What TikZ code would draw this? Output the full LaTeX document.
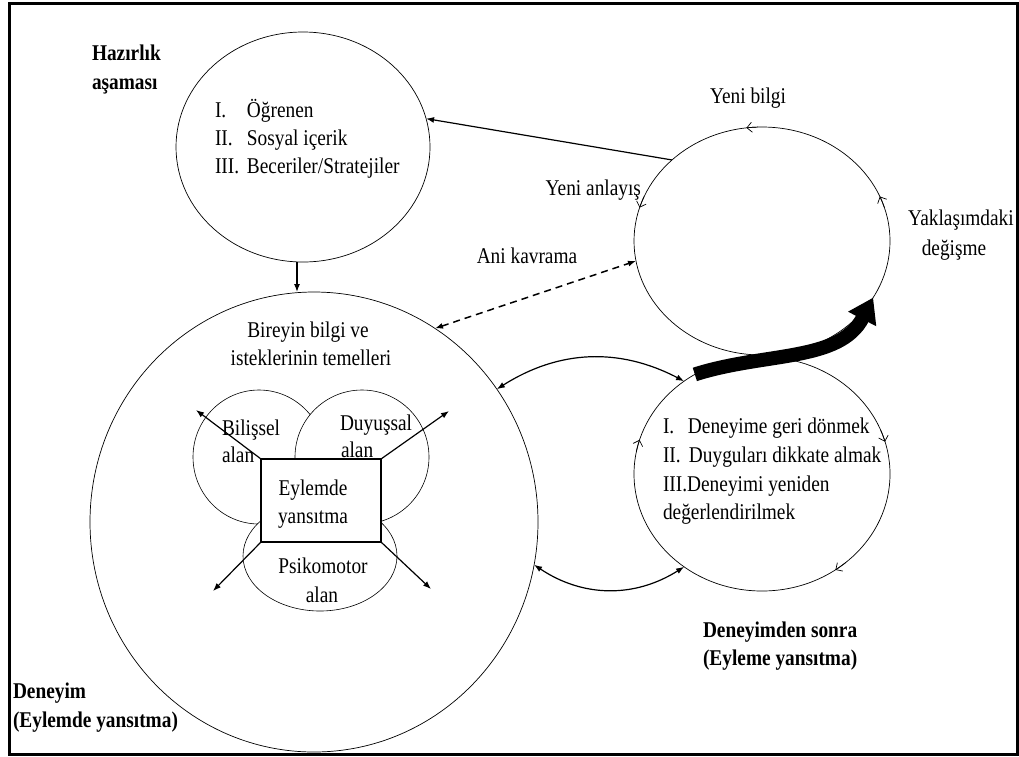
\documentclass[tikz,border=0pt]{standalone}
\usepackage{fontspec}
\setmainfont{Liberation Serif}[FakeStretch=0.86]
\usetikzlibrary{shapes.geometric,arrows.meta,calc}

\begin{document}
\begin{tikzpicture}[x=1pt,y=-1pt,
  every node/.style={inner sep=0pt, outer sep=0pt},
  txt/.style={font=\fontsize{22.5}{29}\selectfont},
  btxt/.style={font=\fontsize{22.5}{29}\selectfont\bfseries},
  ring/.style={draw=black, line width=0.7pt, ellipse},
  lobe/.style={draw=black, line width=0.6pt, ellipse, fill=white},
  arr/.style={line width=1.2pt, -{Latex[length=8pt,width=6pt]}},
  darr/.style={line width=1.2pt, {Latex[length=8pt,width=6pt]}-{Latex[length=8pt,width=6pt]}},
  dasharr/.style={darr, line width=1.5pt, dash pattern=on 7pt off 5pt},
  flow/.style={line width=0.7pt, -{Straight Barb[length=5pt,width=10pt]}},
  bigarr/.style={line width=14pt, -{Triangle[length=24pt,width=30pt]}}]

\useasboundingbox (0,0) rectangle (1019,756);
% frame
\draw[line width=3pt] (9.5,3.5) rectangle (1017.5,754.5);

% the four cycle circles
\node[ring, minimum width=254pt, minimum height=230pt] (tl) at (303,147) {};
\node[ring, minimum width=256pt, minimum height=228pt] (tr) at (762,241) {};
\node[ring, minimum width=256pt, minimum height=234pt] (br) at (762,474) {};
\node[ring, minimum width=448pt, minimum height=460pt] (big) at (314,522) {};

% domains inside the experience circle
\node[lobe, minimum width=132pt, minimum height=134pt] (bil) at (259,457) {};
\node[lobe, minimum width=134pt, minimum height=134pt] (duy) at (362,457) {};
\node[lobe, minimum width=154pt, minimum height=110pt] (psi) at (320,556) {};
\node[draw=black, line width=1.2pt, fill=white, minimum width=120pt, minimum height=83pt] (eyl) at (321,500.5) {};

% direction marks on the right-hand cycles
\draw[flow] ([shift={(-92:128 and 114)}]tr.center) arc[start angle=-92, end angle=-97, x radius=128, y radius=114];
\draw[flow] ([shift={(-157:128 and 114)}]tr.center) arc[start angle=-157, end angle=-163, x radius=128, y radius=114];
\draw[flow] ([shift={(-17:128 and 114)}]tr.center) arc[start angle=-17, end angle=-23, x radius=128, y radius=114];
\draw[flow] ([shift={(-22:128 and 117)}]br.center) arc[start angle=-22, end angle=-16, x radius=128, y radius=117];
\draw[flow] ([shift={(49:128 and 117)}]br.center) arc[start angle=49, end angle=55, x radius=128, y radius=117];
\draw[flow] ([shift={(191:128 and 117)}]br.center) arc[start angle=191, end angle=197, x radius=128, y radius=117];

% labels
\node[btxt, anchor=base west] (hz1) at (92,60) {Hazırlık};
\node[btxt, anchor=base west] (hz2) at (92,89) {aşaması};
\node[btxt, anchor=base west] (dn1) at (13,698) {Deneyim};
\node[btxt, anchor=base west] (dn2) at (13,727) {(Eylemde yansıtma)};
\node[btxt, anchor=base west] (ds1) at (703,637) {Deneyimden sonra};
\node[btxt, anchor=base west] (ds2) at (703,665) {(Eyleme yansıtma)};

\node[txt, anchor=base west] (tl1) at (215,117) {\makebox[32pt][l]{I.}Öğrenen};
\node[txt, anchor=base west] (tl2) at (215,145) {\makebox[32pt][l]{II.}Sosyal içerik};
\node[txt, anchor=base west] (tl3) at (215,173) {\makebox[32pt][l]{III.}Beceriler/Stratejiler};

\node[txt, anchor=base] (yb) at (748,103) {Yeni bilgi};
\node[txt, anchor=base east] (ya) at (641,195) {Yeni anlayış};
\node[txt, anchor=base] (yd1) at (961,225) {Yaklaşımdaki};
\node[txt, anchor=base] (yd2) at (954,255) {değişme};
\node[txt, anchor=base] (ak) at (527,263) {Ani kavrama};

\node[txt, anchor=base] (bb1) at (308,337) {Bireyin bilgi ve};
\node[txt, anchor=base] (bb2) at (311,365) {isteklerinin temelleri};

\node[txt, anchor=base west] (br1) at (663,433) {\makebox[25pt][l]{I.}Deneyime geri dönmek};
\node[txt, anchor=base west] (br2) at (663,462) {\makebox[26pt][l]{II.}Duyguları dikkate almak};
\node[txt, anchor=base west] (br3) at (663,491) {III.Deneyimi yeniden};
\node[txt, anchor=base west] (br4) at (663,519) {değerlendirilmek};

\node[txt, anchor=base west] (bl1) at (222,435) {Bilişsel};
\node[txt, anchor=base west] (bl2) at (222,462) {alan};
\node[txt, anchor=base west] (du1) at (340,430) {Duyuşsal};
\node[txt, anchor=base west] (du2) at (341,457) {alan};
\node[txt, anchor=base] (ey1) at (313,495) {Eylemde};
\node[txt, anchor=base] (ey2) at (313,523) {yansıtma};
\node[txt, anchor=base] (ps1) at (323,573) {Psikomotor};
\node[txt, anchor=base] (ps2) at (322,602) {alan};

% arrows out of the reflection box
\coordinate (nw) at (196,410);
\coordinate (ne) at (449,411);
\coordinate (sw) at (213,591);
\coordinate (se) at (431,589);
\draw[arr] (eyl.north west) -- (nw);
\draw[arr] (eyl.north east) -- (ne);
\draw[arr] (eyl.south west) -- (sw);
\draw[arr] (eyl.south east) -- (se);

% connections between the stages
\draw[arr] (tr.138) -- (tl.13);
\draw[arr] (tl.-93) -- (tl.-93 |- big.north);
\draw[dasharr] (big.58.6) -- (tr.189);
\draw[darr] (big.36) to[bend left=30] (br.130);
\draw[darr] (big.-11.5) to[bend right=33] (br.230);
\draw[bigarr] (br.124) .. controls (765,352) and (840,362) .. (tr.-27);

\end{tikzpicture}
\end{document}
